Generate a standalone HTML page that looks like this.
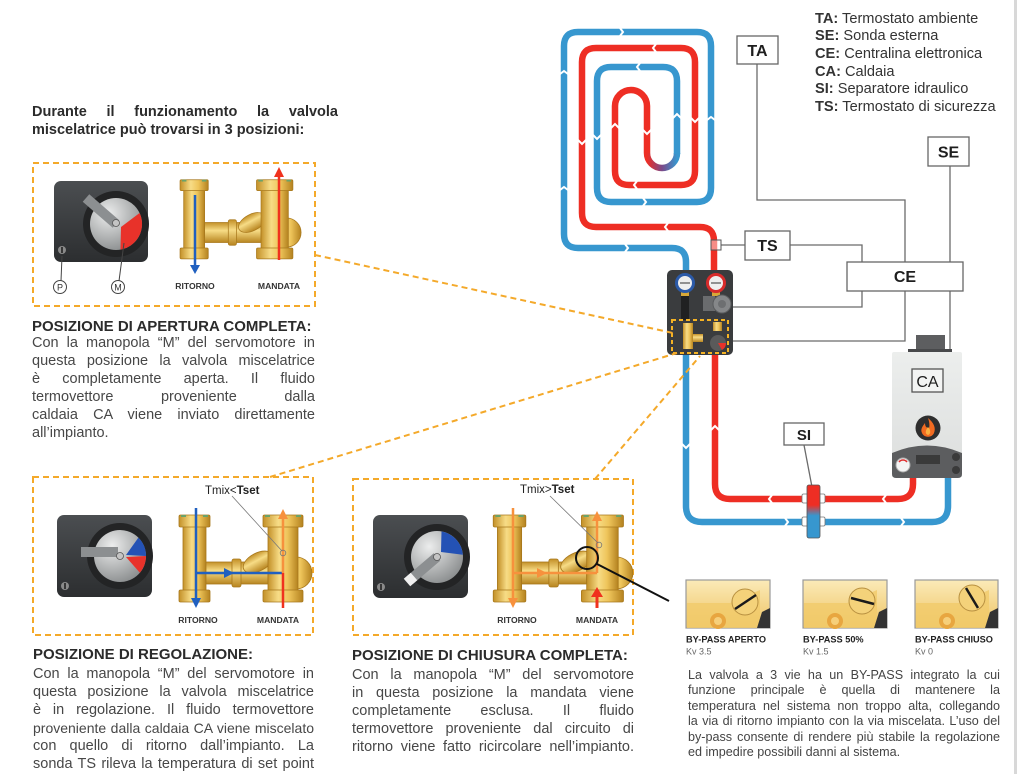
<!DOCTYPE html>
<html><head><meta charset="utf-8">
<style>
html,body{margin:0;padding:0;background:#fff;}
#w{position:relative;width:1020px;height:774px;overflow:hidden;background:#fff;font-family:"Liberation Sans",sans-serif;}
svg{position:absolute;left:0;top:0;}
.blk{position:absolute;color:#474747;font-size:14.5px;line-height:18px;}
.blk div{text-align:justify;text-align-last:justify;white-space:normal;}
.blk div.l{text-align-last:left;}
.hd{position:absolute;font-weight:bold;color:#2b2b2b;font-size:15px;line-height:18px;white-space:nowrap;}
</style></head><body>
<div id="w">
<svg width="1020" height="774" viewBox="0 0 1020 774">
<defs>
<linearGradient id="gold" x1="0" y1="0" x2="1" y2="0"><stop offset="0" stop-color="#c39028"/><stop offset=".38" stop-color="#f7dc86"/><stop offset=".65" stop-color="#eec45a"/><stop offset="1" stop-color="#b4821f"/></linearGradient>
<linearGradient id="goldv" x1="0" y1="0" x2="0" y2="1"><stop offset="0" stop-color="#c39028"/><stop offset=".4" stop-color="#f7dc86"/><stop offset="1" stop-color="#b88520"/></linearGradient>
<linearGradient id="servo" x1="0" y1="0" x2="0" y2="1"><stop offset="0" stop-color="#4b4e51"/><stop offset="1" stop-color="#2c2e30"/></linearGradient>
<radialGradient id="disc" cx=".35" cy=".3" r=".8"><stop offset="0" stop-color="#eceded"/><stop offset="1" stop-color="#858889"/></radialGradient>
<linearGradient id="ugrad" gradientUnits="userSpaceOnUse" x1="647" y1="0" x2="677" y2="0"><stop offset="0" stop-color="#ee2e24"/><stop offset=".5" stop-color="#7a4a8a"/><stop offset="1" stop-color="#3797cf"/></linearGradient>
<linearGradient id="sep" x1="0" y1="0" x2="0" y2="1"><stop offset="0" stop-color="#ee2e24"/><stop offset=".38" stop-color="#ee2e24"/><stop offset=".58" stop-color="#3797cf"/><stop offset="1" stop-color="#3797cf"/></linearGradient>
<linearGradient id="boil" x1="0" y1="0" x2="0" y2="1"><stop offset="0" stop-color="#eceeed"/><stop offset="1" stop-color="#dcdedd"/></linearGradient>
<linearGradient id="thumb" x1="0" y1="0" x2="0" y2="1"><stop offset="0" stop-color="#fbeab8"/><stop offset="1" stop-color="#eec463"/></linearGradient>
<g id="valve">
 <rect x="9" y="8" width="23" height="76" fill="url(#gold)" stroke="#a8781c" stroke-width=".8"/>
 <rect x="5" y="3" width="31" height="12" rx="1.5" fill="url(#gold)" stroke="#a8781c" stroke-width=".8"/>
 <rect x="5" y="78" width="31" height="12" rx="1.5" fill="url(#gold)" stroke="#a8781c" stroke-width=".8"/>
 <rect x="7" y="3" width="5" height="2" fill="#6aa36a"/><rect x="29" y="3" width="5" height="2" fill="#6aa36a"/>
 <rect x="32" y="50" width="62" height="22" fill="url(#goldv)" stroke="#a8781c" stroke-width=".8"/>
 <rect x="58" y="47" width="9" height="28" rx="2" fill="url(#goldv)" stroke="#a8781c" stroke-width=".8"/>
 <ellipse cx="84" cy="50" rx="16" ry="9" transform="rotate(-28 84 50)" fill="url(#goldv)" stroke="#a8781c" stroke-width=".8"/>
 <circle cx="122" cy="61" r="16" fill="url(#gold)" stroke="#a8781c" stroke-width=".8"/>
 <rect x="94" y="8" width="30" height="76" fill="url(#gold)" stroke="#a8781c" stroke-width=".8"/>
 <rect x="89" y="3" width="40" height="12" rx="1.5" fill="url(#gold)" stroke="#a8781c" stroke-width=".8"/>
 <rect x="89" y="78" width="40" height="12" rx="1.5" fill="url(#gold)" stroke="#a8781c" stroke-width=".8"/>
 <rect x="91" y="3" width="5" height="2" fill="#6aa36a"/><rect x="122" y="3" width="5" height="2" fill="#6aa36a"/>
</g>
</defs>

<!-- right border -->
<rect x="1014" y="0" width="3" height="774" fill="#d8d8d8"/>

<!-- spiral pipes -->
<g fill="none" stroke-width="6.5">
<path d="M714,270 V241 Q714,227 700,227 H596 Q582,227 582,213 V62 Q582,48 596,48 H681 Q695,48 695,62 V171 Q695,185 681,185 H629 Q615,185 615,171 V106 A16,16 0 0 1 647,106 V153" stroke="#ee2e24"/>
<path d="M647,153 A15,15 0 0 0 677,153" stroke="url(#ugrad)"/>
<path d="M677,154 V81 Q677,67 663,67 H611 Q597,67 597,81 V188 Q597,202 611,202 H697 Q711,202 711,188 V46 Q711,32 697,32 H578 Q564,32 564,46 V234 Q564,248 578,248 H672 Q686,248 686,262 V270" stroke="#3797cf"/>
<path d="M715,355 V484 Q715,499 730,499 H898 Q913,499 913,484 V477" stroke="#ee2e24"/>
<path d="M686,355 V506 Q686,522 702,522 H932 Q948,522 948,506 V477" stroke="#3797cf"/>
</g>
<!-- flow gaps -->
<g stroke="#fff" stroke-width="2" fill="none">
<path d="M620,28 L623,32 L620,36"/><path d="M656,44 L653,48 L656,52"/>
<path d="M560,74 L564,71 L568,74"/><path d="M560,190 L564,187 L568,190"/>
<path d="M578,140 L582,144 L586,140"/><path d="M691,118 L695,122 L699,118"/>
<path d="M707,120 L711,117 L715,120"/><path d="M593,135 L597,139 L601,135"/>
<path d="M640,63 L637,67 L640,71"/><path d="M637,181 L634,185 L637,189"/>
<path d="M643,198 L646,202 L643,206"/><path d="M668,223 L665,227 L668,231"/>
<path d="M625,244 L628,248 L625,252"/><path d="M611,128 L615,124 L619,128"/>
<path d="M673,118 L677,114 L681,118"/><path d="M643,130 L647,134 L651,130"/>
<path d="M711,430 L715,426 L719,430"/><path d="M682,444 L686,448 L690,444"/>
<path d="M772,495 L769,499 L772,503"/><path d="M886,495 L883,499 L886,503"/>
<path d="M785,518 L788,522 L785,526"/><path d="M901,518 L904,522 L901,526"/>
</g>

<!-- connector lines -->
<g fill="none" stroke="#6b6b6b" stroke-width="1.3">
<polyline points="757,64 757,200 905,200 905,262"/>
<line x1="950" y1="166" x2="950" y2="352"/>
<line x1="721" y1="245" x2="745" y2="245"/>
<polyline points="790,245 862,245 862,262"/>
<polyline points="733,307 862,307 862,291"/>
<polyline points="733,341 905,341 905,291"/>
<line x1="804" y1="445" x2="812" y2="487"/>
</g>
<rect x="711" y="240" width="10" height="10" fill="#fff" fill-opacity=".45" stroke="#555" stroke-width="1"/>

<!-- label boxes -->
<g fill="#fff" stroke="#666" stroke-width="1.3">
<rect x="737" y="36" width="41" height="28"/>
<rect x="928" y="137" width="41" height="29"/>
<rect x="745" y="231" width="45" height="29"/>
<rect x="847" y="262" width="116" height="29"/>
<rect x="784" y="423" width="40" height="22"/>
</g>
<g font-family="Liberation Sans, sans-serif" font-weight="bold" font-size="16" fill="#1e1e1e" text-anchor="middle">
<text x="757.5" y="56">TA</text>
<text x="948.5" y="157.5">SE</text>
<text x="767.5" y="251">TS</text>
<text x="905" y="282">CE</text>
<text x="804" y="440" font-size="15">SI</text>
</g>

<!-- manifold -->
<rect x="667" y="270" width="66" height="85" rx="5" fill="#3a3c3e"/>
<rect x="681" y="292" width="8" height="28" fill="#202122"/>
<rect x="681" y="291" width="8" height="5" fill="#d8a838"/>
<rect x="712" y="291" width="8" height="5" fill="#d8a838"/>
<circle cx="685" cy="283" r="8.5" fill="#eee" stroke="#2b5aa8" stroke-width="3"/>
<circle cx="716" cy="283" r="8.5" fill="#eee" stroke="#d82b2b" stroke-width="3"/>
<line x1="680" y1="283" x2="690" y2="283" stroke="#333" stroke-width="1"/>
<line x1="711" y1="283" x2="721" y2="283" stroke="#333" stroke-width="1"/>
<rect x="703" y="296" width="12" height="15" fill="#6a6c6e"/>
<circle cx="722" cy="304" r="9" fill="#858789" stroke="#5a5c5e"/>
<circle cx="722" cy="304" r="4" fill="#6d6f71"/>
<rect x="683" y="323" width="10" height="26" fill="url(#gold)"/>
<rect x="693" y="334" width="10" height="8" fill="url(#goldv)"/>
<rect x="713" y="322" width="9" height="9" fill="url(#gold)"/>
<circle cx="718" cy="343" r="8" fill="#5a5a5a"/>
<path d="M718,343 L726,343 A8,8 0 0 1 722,350 Z" fill="#e8322a"/>
<rect x="672" y="320" width="56" height="33" fill="none" stroke="#f5b324" stroke-width="2" stroke-dasharray="4 3"/>

<!-- separator -->
<g fill="#fff" stroke="#777" stroke-width=".8">
<rect x="802" y="494" width="6" height="9" rx="1.5"/><rect x="819" y="494" width="6" height="9" rx="1.5"/>
<rect x="802" y="517" width="6" height="9" rx="1.5"/><rect x="819" y="517" width="6" height="9" rx="1.5"/>
</g>
<rect x="807" y="485" width="13" height="53" rx="2" fill="url(#sep)" stroke="#555" stroke-width=".8"/>

<!-- boiler -->
<rect x="916" y="335" width="29" height="16" fill="#5d5e60"/>
<rect x="908" y="349" width="44" height="5" fill="#48494b"/>
<rect x="892" y="352" width="70" height="125" rx="2" fill="url(#boil)"/>
<path d="M892,453 Q927,438 962,453 V474 Q962,478 958,478 H896 Q892,478 892,474 Z" fill="#5c5d5f"/>
<rect x="912" y="369" width="31" height="23" fill="#f3f4f3" stroke="#555" stroke-width="1.3"/>
<text x="927.5" y="387" font-family="Liberation Sans, sans-serif" font-size="16" text-anchor="middle" fill="#1e1e1e">CA</text>
<circle cx="928" cy="428" r="12.5" fill="#2e2e2e"/>
<path d="M928,418 C934,423 936,428 934,433 C932,438 924,438 922,433 C920,429 923,426 925,423 C925,427 927,428 929,428 C930,425 929,421 928,418Z" fill="#f26b21"/>
<path d="M928,427 C931,430 931,434 928,435 C925,434 925,431 928,427Z" fill="#fbb040"/>
<circle cx="903" cy="465" r="7" fill="#f4f4f4" stroke="#aaa"/>
<path d="M899,462 A5,5 0 0 1 907,462" stroke="#e03030" stroke-width="1.5" fill="none"/>
<rect x="916" y="455" width="24" height="9" fill="#3a3a3a"/>
<circle cx="956" cy="457" r="4" fill="#3a3a3a"/>
<circle cx="956" cy="470" r="4" fill="#3a3a3a"/>

<!-- orange dashed boxes & leaders -->
<g fill="none" stroke="#f4a92a" stroke-width="2" stroke-dasharray="6 4">
<rect x="33" y="163" width="282" height="143"/>
<rect x="33" y="477" width="280" height="158"/>
<rect x="353" y="479" width="280" height="156"/>
<line x1="315" y1="255" x2="673" y2="333"/>
<line x1="270" y1="477" x2="677" y2="353"/>
<line x1="595" y1="479" x2="700" y2="356"/>
</g>

<!-- SERVO 1 -->
<rect x="54" y="181" width="94" height="81" rx="7" fill="url(#servo)"/>
<circle cx="116" cy="224" r="33" fill="#232425"/>
<circle cx="116" cy="224" r="26" fill="url(#disc)"/>
<path d="M121,227 L139.6,213 A26,26 0 0 1 120.5,249.6 Z" fill="#e8322a"/>
<line x1="116" y1="224" x2="86" y2="198" stroke="#8c8f91" stroke-width="10"/>
<circle cx="116" cy="223" r="3.5" fill="#c4c4c4" stroke="#555" stroke-width=".8"/>
<circle cx="62" cy="250" r="4" fill="#8a8a8a"/><rect x="61.2" y="247" width="1.6" height="6" fill="#222"/>
<g stroke="#444" stroke-width="1" fill="#fff">
<line x1="62" y1="256" x2="61" y2="281"/><line x1="124" y1="243" x2="119" y2="281"/>
<circle cx="60" cy="287" r="6.5"/><circle cx="118" cy="287" r="6.5"/>
</g>
<g font-family="Liberation Sans, sans-serif" font-size="9" fill="#333" text-anchor="middle">
<text x="60" y="290.5">P</text><text x="118" y="290.5">M</text>
</g>

<!-- SERVO 2 -->
<rect x="57" y="515" width="95" height="82" rx="7" fill="url(#servo)"/>
<circle cx="120" cy="556" r="33" fill="#232425"/>
<circle cx="120" cy="556" r="26" fill="url(#disc)"/>
<path d="M126,555 L138.4,537.6 A26,26 0 0 1 146,556 Z" fill="#2452b5"/>
<path d="M126,557 L146,556 A26,26 0 0 1 139.9,572.7 Z" fill="#e8322a"/>
<line x1="118" y1="552" x2="81" y2="552" stroke="#8c8f91" stroke-width="10"/>
<circle cx="120" cy="556" r="3.5" fill="#c4c4c4" stroke="#555" stroke-width=".8"/>
<circle cx="65" cy="586" r="4" fill="#8a8a8a"/><rect x="64.2" y="583" width="1.6" height="6" fill="#222"/>

<!-- SERVO 3 -->
<rect x="373" y="515" width="95" height="83" rx="7" fill="url(#servo)"/>
<circle cx="437" cy="557" r="33" fill="#232425"/>
<circle cx="437" cy="557" r="26" fill="url(#disc)"/>
<path d="M441,552 L441.5,531.4 A26,26 0 0 1 462.9,554.7 Z" fill="#2452b5"/>
<line x1="437" y1="557" x2="410" y2="580" stroke="#8c8f91" stroke-width="10"/>
<line x1="414" y1="576.5" x2="407" y2="582.5" stroke="#f0f0f0" stroke-width="10"/>
<circle cx="437" cy="557" r="3.5" fill="#c4c4c4" stroke="#555" stroke-width=".8"/>
<circle cx="381" cy="587" r="4" fill="#8a8a8a"/><rect x="380.2" y="584" width="1.6" height="6" fill="#222"/>

<!-- valves -->
<use href="#valve" transform="translate(175.5,177) scale(0.91)"/>
<use href="#valve" transform="translate(174,512)"/>
<use href="#valve" transform="translate(488,512) scale(1.05,1)"/>

<!-- arrows box1 -->
<g stroke-width="2.5">
<line x1="195" y1="195" x2="195" y2="266" stroke="#2060c0"/>
<path d="M190,265 L200,265 L195,274 Z" fill="#2060c0"/>
<line x1="279" y1="260" x2="279" y2="176" stroke="#f0321e"/>
<path d="M274,177 L284,177 L279,167 Z" fill="#f0321e"/>
</g>
<!-- arrows box2 -->
<g stroke-width="2.5">
<line x1="196" y1="508" x2="196" y2="600" stroke="#2060c0"/>
<path d="M191,598 L201,598 L196,608 Z" fill="#2060c0"/>
<line x1="196" y1="573" x2="283" y2="573" stroke="#2060c0"/>
<path d="M224,568 L234,573 L224,578 Z" fill="#2060c0"/>
<line x1="283" y1="608" x2="283" y2="573" stroke="#f0321e"/>
<line x1="283" y1="573" x2="283" y2="518" stroke="#f7913d"/>
<path d="M278,519 L288,519 L283,509 Z" fill="#f7913d"/>
</g>
<!-- arrows box3 -->
<g stroke-width="2.5">
<line x1="513" y1="508" x2="513" y2="600" stroke="#f7913d"/>
<path d="M508,598 L518,598 L513,608 Z" fill="#f7913d"/>
<line x1="513" y1="573" x2="597" y2="573" stroke="#f7913d"/>
<path d="M537,568 L547,573 L537,578 Z" fill="#f7913d"/>
<line x1="597" y1="573" x2="597" y2="520" stroke="#f7913d"/>
<path d="M592,521 L602,521 L597,511 Z" fill="#f7913d"/>
<line x1="597" y1="608" x2="597" y2="596" stroke="#f0321e" stroke-width="3"/>
<path d="M591,597 L603,597 L597,587 Z" fill="#f0321e"/>
</g>

<!-- Tmix labels and pointers -->
<g stroke="#777" stroke-width=".8" fill="none">
<line x1="232" y1="496" x2="282" y2="551"/><circle cx="283" cy="553" r="2.8"/>
<line x1="550" y1="496" x2="598" y2="543"/><circle cx="599" cy="545" r="2.8"/>
</g>
<circle cx="587" cy="558" r="11" fill="none" stroke="#111" stroke-width="2"/>
<line x1="597" y1="564" x2="669" y2="601" stroke="#111" stroke-width="2"/>
<g font-family="Liberation Sans, sans-serif" font-size="11.5" fill="#222">
<text x="205" y="494">Tmix&lt;<tspan font-weight="bold">Tset</tspan></text>
<text x="520" y="493">Tmix&gt;<tspan font-weight="bold">Tset</tspan></text>
</g>
<g font-family="Liberation Sans, sans-serif" font-size="8.6" font-weight="bold" fill="#333" text-anchor="middle">
<text x="195" y="289">RITORNO</text><text x="279" y="289">MANDATA</text>
<text x="198" y="623">RITORNO</text><text x="278" y="623">MANDATA</text>
<text x="517" y="623">RITORNO</text><text x="597" y="623">MANDATA</text>
</g>

<!-- bypass thumbnails -->
<g>
<rect x="686" y="580" width="84" height="48" fill="url(#thumb)" stroke="#9a9a9a" stroke-width="1.2"/>
<path d="M687,603 H730 L760,590 V628 H687 Z" fill="#f1cb6a" opacity=".8"/>
<circle cx="718" cy="621" r="8" fill="#e8a640"/><circle cx="718" cy="621" r="4" fill="#f6cf7a"/>
<circle cx="745" cy="602" r="13" fill="#f4d27a" stroke="#b89040" stroke-width="1"/>
<line x1="735" y1="609" x2="756" y2="595" stroke="#1a1a1a" stroke-width="2.5"/>
<path d="M762,612 L770,608 L770,628 L757,628 Z" fill="#333"/>

<rect x="803" y="580" width="84" height="48" fill="url(#thumb)" stroke="#9a9a9a" stroke-width="1.2"/>
<path d="M804,603 H847 L877,590 V628 H804 Z" fill="#f1cb6a" opacity=".8"/>
<circle cx="835" cy="621" r="8" fill="#e8a640"/><circle cx="835" cy="621" r="4" fill="#f6cf7a"/>
<circle cx="862" cy="601" r="13" fill="#f4d27a" stroke="#b89040" stroke-width="1"/>
<line x1="851" y1="598" x2="874" y2="604" stroke="#1a1a1a" stroke-width="2.5"/>
<path d="M879,612 L887,608 L887,628 L874,628 Z" fill="#333"/>

<rect x="915" y="580" width="83" height="48" fill="url(#thumb)" stroke="#9a9a9a" stroke-width="1.2"/>
<path d="M916,603 H959 L989,590 V628 H916 Z" fill="#f1cb6a" opacity=".8"/>
<circle cx="947" cy="621" r="8" fill="#e8a640"/><circle cx="947" cy="621" r="4" fill="#f6cf7a"/>
<circle cx="972" cy="598" r="13" fill="#f4d27a" stroke="#b89040" stroke-width="1"/>
<line x1="966" y1="588" x2="978" y2="608" stroke="#1a1a1a" stroke-width="2.5"/>
<path d="M990,612 L998,608 L998,628 L985,628 Z" fill="#333"/>
</g>
<g font-family="Liberation Sans, sans-serif" fill="#222">
<text x="686" y="642.5" font-size="9.2" font-weight="bold">BY-PASS APERTO</text>
<text x="686" y="654.5" font-size="9" fill="#666">Kv 3.5</text>
<text x="803" y="642.5" font-size="9.2" font-weight="bold">BY-PASS 50%</text>
<text x="803" y="654.5" font-size="9" fill="#666">Kv 1.5</text>
<text x="915" y="642.5" font-size="9.2" font-weight="bold">BY-PASS CHIUSO</text>
<text x="915" y="654.5" font-size="9" fill="#666">Kv 0</text>
</g>
</svg>

<!-- legend -->
<div style="position:absolute;left:815px;top:10.5px;font-size:14.6px;line-height:17.7px;color:#333;white-space:nowrap;">
<div><b>TA:</b> Termostato ambiente</div>
<div><b>SE:</b> Sonda esterna</div>
<div><b>CE:</b> Centralina elettronica</div>
<div><b>CA:</b> Caldaia</div>
<div><b>SI:</b> Separatore idraulico</div>
<div><b>TS:</b> Termostato di sicurezza</div>
</div>

<!-- top heading -->
<div class="blk" style="left:32px;top:104px;width:306px;font-weight:bold;color:#2b2b2b;line-height:17.5px;font-size:14.5px;">
<div>Durante il funzionamento la valvola</div>
<div class="l">miscelatrice può trovarsi in 3 posizioni:</div>
</div>

<!-- block 1 -->
<div class="hd" style="left:32px;top:318px;">POSIZIONE DI APERTURA COMPLETA:</div>
<div class="blk" style="left:32px;top:334px;width:283px;">
<div>Con la manopola “M” del servomotore in</div>
<div>questa posizione la valvola miscelatrice</div>
<div>è completamente aperta. Il fluido</div>
<div>termovettore proveniente dalla</div>
<div>caldaia CA viene inviato direttamente</div>
<div class="l">all’impianto.</div>
</div>

<!-- block 2 -->
<div class="hd" style="left:33px;top:646px;">POSIZIONE DI REGOLAZIONE:</div>
<div class="blk" style="left:33px;top:665px;width:281px;">
<div>Con la manopola “M” del servomotore in</div>
<div>questa posizione la valvola miscelatrice</div>
<div>è in regolazione. Il fluido termovettore</div>
<div style="font-size:14px;word-spacing:-2px;">proveniente dalla caldaia CA viene miscelato</div>
<div>con quello di ritorno dall’impianto. La</div>
<div>sonda TS rileva la temperatura di set point</div>
</div>

<!-- block 3 -->
<div class="hd" style="left:352px;top:647px;">POSIZIONE DI CHIUSURA COMPLETA:</div>
<div class="blk" style="left:352px;top:666px;width:282px;">
<div>Con la manopola “M” del servomotore</div>
<div>in questa posizione la mandata viene</div>
<div>completamente esclusa. Il fluido</div>
<div>termovettore proveniente dal circuito di</div>
<div>ritorno viene fatto ricircolare nell’impianto.</div>
</div>

<!-- bypass paragraph -->
<div class="blk" style="left:688px;top:668px;width:312px;font-size:12.6px;line-height:15.4px;color:#444;">
<div>La valvola a 3 vie ha un BY-PASS integrato la cui</div>
<div>funzione principale è quella di mantenere la</div>
<div>temperatura nel sistema non troppo alta, collegando</div>
<div>la via di ritorno impianto con la via miscelata. L’uso del</div>
<div>by-pass consente di rendere più stabile la regolazione</div>
<div class="l">ed impedire possibili danni al sistema.</div>
</div>
</div>
</body></html>
